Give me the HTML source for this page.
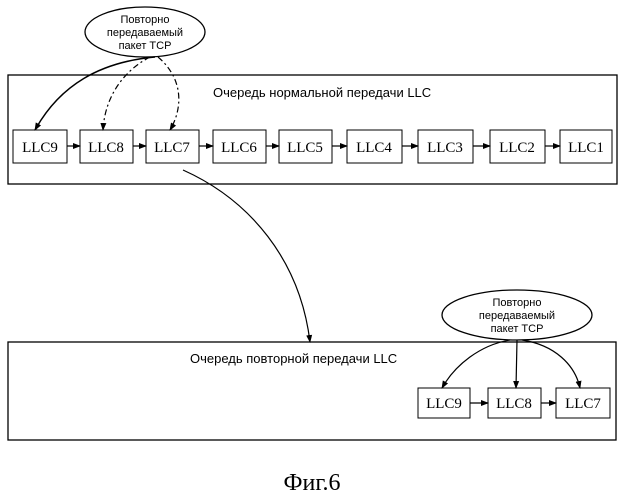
<!DOCTYPE html>
<html><head><meta charset="utf-8"><style>
html,body{margin:0;padding:0;background:#fff;}
svg{display:block}
.s{font-family:"Liberation Sans",sans-serif;font-size:11px;}
.b{font-family:"Liberation Serif",serif;font-size:15px;}
</style></head><body>
<svg width="625" height="500" viewBox="0 0 625 500">
<defs><marker id="a" markerWidth="8" markerHeight="8" refX="7" refY="4" orient="auto" markerUnits="userSpaceOnUse"><path d="M0,1 L8,4 L0,7 Z" fill="#000"/></marker></defs>
<g fill="none" stroke="#000" stroke-width="1.3">
<rect x="8" y="75" width="609" height="109"/>
<rect x="8" y="342" width="608" height="98"/>
<ellipse cx="145" cy="32" rx="60" ry="25"/>
<ellipse cx="517" cy="315" rx="75" ry="25"/>
</g>
<g class="s" text-anchor="middle">
<text x="145" y="23">Повторно</text><text x="145" y="36">передаваемый</text><text x="145" y="49">пакет TCP</text>
<text x="517" y="306">Повторно</text><text x="517" y="319">передаваемый</text><text x="517" y="332">пакет TCP</text>
</g>
<text class="s" x="213" y="97" style="font-size:13px">Очередь нормальной передачи LLC</text>
<text class="s" x="190" y="363" style="font-size:13px">Очередь повторной передачи LLC</text>
<g fill="#fff" stroke="#000" stroke-width="1">
<rect x="13" y="130" width="54" height="33"/><rect x="80" y="130" width="53" height="33"/><rect x="146" y="130" width="53" height="33"/>
<rect x="213" y="130" width="53" height="33"/><rect x="279" y="130" width="53" height="33"/><rect x="347" y="130" width="55" height="33"/>
<rect x="418" y="130" width="55" height="33"/><rect x="490" y="130" width="55" height="33"/><rect x="560" y="130" width="52" height="33"/>
<rect x="418" y="388" width="52" height="30"/><rect x="488" y="388" width="53" height="30"/><rect x="556" y="388" width="54" height="30"/>
</g>
<g class="b" text-anchor="middle">
<text x="40" y="152">LLC9</text><text x="106" y="152">LLC8</text><text x="172" y="152">LLC7</text>
<text x="239" y="152">LLC6</text><text x="305" y="152">LLC5</text><text x="374" y="152">LLC4</text>
<text x="445" y="152">LLC3</text><text x="517" y="152">LLC2</text><text x="586" y="152">LLC1</text>
<text x="444" y="408">LLC9</text><text x="514" y="408">LLC8</text><text x="583" y="408">LLC7</text>
</g>
<g stroke="#000" stroke-width="1.2" fill="none" marker-end="url(#a)">
<line x1="67" y1="146" x2="80" y2="146"/><line x1="133" y1="146" x2="146" y2="146"/><line x1="199" y1="146" x2="213" y2="146"/>
<line x1="266" y1="146" x2="279" y2="146"/><line x1="332" y1="146" x2="347" y2="146"/><line x1="402" y1="146" x2="418" y2="146"/>
<line x1="473" y1="146" x2="490" y2="146"/><line x1="545" y1="146" x2="560" y2="146"/>
<line x1="470" y1="403" x2="488" y2="403"/><line x1="541" y1="403" x2="556" y2="403"/>
<path d="M155,57 C100,62 60,85 35,130" stroke-width="1.5"/>
<path d="M150,57 C125,70 105,95 103,130" stroke-dasharray="6,3,2,3"/>
<path d="M158,57 C185,80 182,110 170,130" stroke-dasharray="6,3,2,3"/>
<path d="M183,170 C250,200 300,260 310,342"/>
<path d="M510,340 C480,345 455,365 442,388"/>
<path d="M517,340 L516,388"/>
<path d="M522,340 C555,345 575,365 580,388"/>
</g>
<text x="312" y="490" font-family="Liberation Serif,serif" font-size="24" text-anchor="middle">Фиг.6</text>
</svg>
</body></html>
